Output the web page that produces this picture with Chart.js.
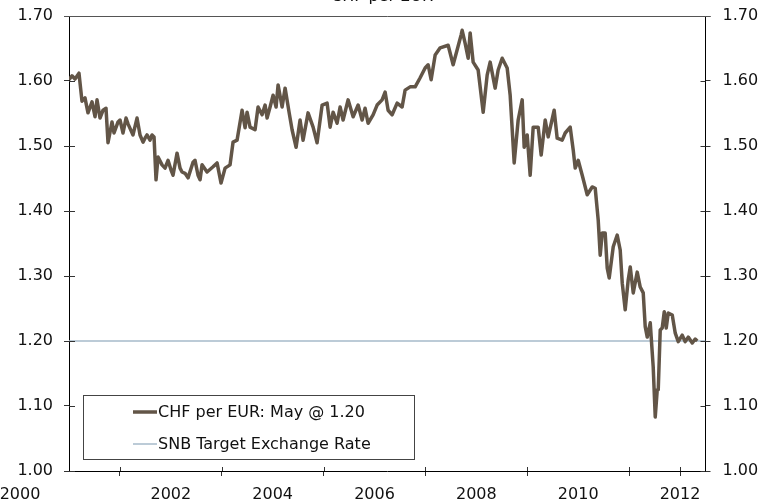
<!DOCTYPE html>
<html>
<head>
<meta charset="utf-8">
<script src="https://cdn.jsdelivr.net/npm/chart.js@4"></script>
<style>
html, body { margin: 0; padding: 0; background: #fff; }
</style>
</head>
<body>
<canvas id="myChart" width="773" height="503"></canvas>
<script>
// weekly-ish CHF per EUR
var dates = [
  2000.000, 2000.059, 2000.118, 2000.196, 2000.255, 2000.314, 2000.373, 2000.452, 2000.511, 2000.550,
  2000.609, 2000.668, 2000.727, 2000.766, 2000.845, 2000.884, 2000.963, 2001.002, 2001.061, 2001.120,
  2001.159, 2001.257, 2001.336, 2001.395, 2001.454, 2001.493, 2001.532, 2001.591, 2001.631, 2001.670,
  2001.709, 2001.749, 2001.827, 2001.886, 2001.945, 2002.004, 2002.043, 2002.122, 2002.181, 2002.220,
  2002.279, 2002.338, 2002.436, 2002.475, 2002.534, 2002.574, 2002.613, 2002.711, 2002.829, 2002.908,
  2002.986, 2003.065, 2003.163, 2003.222, 2003.301, 2003.399, 2003.458, 2003.497, 2003.556, 2003.654,
  2003.713, 2003.792, 2003.851, 2003.890, 2003.949, 2004.008, 2004.067, 2004.106, 2004.185, 2004.244,
  2004.322, 2004.381, 2004.460, 2004.538, 2004.597, 2004.695, 2004.794, 2004.872, 2004.971, 2005.069,
  2005.128, 2005.187, 2005.265, 2005.324, 2005.383, 2005.481, 2005.580, 2005.678, 2005.756, 2005.815,
  2005.874, 2005.972, 2006.051, 2006.149, 2006.208, 2006.267, 2006.346, 2006.444, 2006.542, 2006.601,
  2006.699, 2006.798, 2006.896, 2006.994, 2007.053, 2007.112, 2007.191, 2007.289, 2007.446, 2007.544,
  2007.623, 2007.701, 2007.721, 2007.780, 2007.839, 2007.878, 2007.937, 2008.035, 2008.134, 2008.212,
  2008.271, 2008.369, 2008.428, 2008.507, 2008.605, 2008.664, 2008.743, 2008.821, 2008.900, 2008.939,
  2008.998, 2009.057, 2009.116, 2009.214, 2009.273, 2009.352, 2009.411, 2009.528, 2009.587, 2009.686,
  2009.745, 2009.843, 2009.902, 2009.941, 2010.000, 2010.079, 2010.177, 2010.275, 2010.334, 2010.393,
  2010.432, 2010.472, 2010.530, 2010.570, 2010.609, 2010.688, 2010.766, 2010.825, 2010.865, 2010.923,
  2010.982, 2011.022, 2011.081, 2011.159, 2011.218, 2011.277, 2011.316, 2011.356, 2011.415, 2011.454,
  2011.473, 2011.513, 2011.552, 2011.572, 2011.611, 2011.650, 2011.690, 2011.729, 2011.768, 2011.847,
  2011.906, 2011.965, 2012.043, 2012.102, 2012.161, 2012.240, 2012.298, 2012.338
];
var chfPerEur = [
  1.602, 1.608, 1.603, 1.612, 1.569, 1.574, 1.551, 1.568, 1.545, 1.571,
  1.543, 1.555, 1.558, 1.505, 1.537, 1.520, 1.537, 1.540, 1.520, 1.543,
  1.534, 1.517, 1.543, 1.517, 1.506, 1.512, 1.517, 1.509, 1.517, 1.514,
  1.448, 1.483, 1.471, 1.466, 1.478, 1.463, 1.455, 1.489, 1.466, 1.460,
  1.458, 1.451, 1.475, 1.478, 1.455, 1.448, 1.471, 1.460, 1.468, 1.474,
  1.443, 1.466, 1.471, 1.506, 1.509, 1.555, 1.528, 1.552, 1.529, 1.525,
  1.560, 1.548, 1.563, 1.543, 1.560, 1.578, 1.560, 1.594, 1.560, 1.589,
  1.552, 1.525, 1.498, 1.540, 1.509, 1.551, 1.529, 1.505, 1.563, 1.566,
  1.529, 1.552, 1.535, 1.560, 1.540, 1.571, 1.545, 1.563, 1.540, 1.558,
  1.535, 1.548, 1.563, 1.571, 1.583, 1.555, 1.548, 1.566, 1.560, 1.586,
  1.591, 1.591, 1.605, 1.620, 1.625, 1.602, 1.640, 1.651, 1.655, 1.625,
  1.648, 1.671, 1.678, 1.658, 1.635, 1.674, 1.629, 1.617, 1.552, 1.609,
  1.629, 1.589, 1.617, 1.635, 1.620, 1.578, 1.474, 1.540, 1.571, 1.498,
  1.517, 1.455, 1.529, 1.529, 1.486, 1.540, 1.514, 1.555, 1.512, 1.509,
  1.520, 1.529, 1.494, 1.466, 1.478, 1.455, 1.425, 1.437, 1.435, 1.386,
  1.332, 1.366, 1.366, 1.312, 1.297, 1.345, 1.363, 1.340, 1.289, 1.248,
  1.294, 1.314, 1.274, 1.306, 1.283, 1.274, 1.222, 1.206, 1.228, 1.182,
  1.160, 1.083, 1.125, 1.125, 1.217, 1.220, 1.245, 1.220, 1.243, 1.240,
  1.212, 1.199, 1.209, 1.199, 1.206, 1.197, 1.203, 1.200
];
var targetDates = [2000, 2012.5];
var targetRate = [1.20, 1.20];

var yearTicks = [2000, 2001, 2002, 2003, 2004, 2005, 2006, 2007, 2008, 2009, 2010, 2011, 2012];
var yearLabels = ['', '', '2002', '', '2004', '', '2006', '', '2008', '', '2010', '', '2012'];
var tickMarkYears = [2001, 2003, 2005, 2007, 2009, 2011, 2012];
var rateTicks = [1.00, 1.10, 1.20, 1.30, 1.40, 1.50, 1.60, 1.70];

var FONT = 'DejaVu Sans';
var lineColor = '#625547';
var targetColor = '#a6baca';

function toPoints(xs, ys) {
  return xs.map(function(x, i){ return {x: x, y: ys[i]}; });
}

// fixed box sizes so the plot area sits where the original one does
function fixBox(w, h) {
  return function(scale) {
    if (w !== null) scale.width = w;
    if (h !== null) scale.height = h;
    scale.paddingTop = 0; scale.paddingBottom = 0;
    scale.paddingLeft = 0; scale.paddingRight = 0;
  };
}

// ticks crossing the axes, top border, title, legend box, first year label
var extras = {
  id: 'extras',
  afterDraw: function(chart) {
    var c = chart.ctx, a = chart.chartArea;
    var y = chart.scales.y, x = chart.scales.x;
    c.save();
    c.strokeStyle = '#333';
    c.lineWidth = 1;
    c.beginPath();
    rateTicks.forEach(function(v){
      var py = Math.round(y.getPixelForValue(v)) + 0.5;
      c.moveTo(a.left, py); c.lineTo(a.left + 6, py);
      c.moveTo(a.right - 5, py); c.lineTo(a.right, py);
    });
    tickMarkYears.forEach(function(v){
      var px = Math.round(x.getPixelForValue(v)) + 0.5;
      c.moveTo(px, a.bottom - 4); c.lineTo(px, a.bottom);
    });
    c.stroke();

    c.strokeStyle = '#555';
    c.beginPath();
    c.moveTo(a.left - 5, Math.round(a.top) + 0.5);
    c.lineTo(a.right + 5, Math.round(a.top) + 0.5);
    c.stroke();

    c.fillStyle = '#111';
    c.font = '16px "' + FONT + '"';
    c.textAlign = 'center';
    c.textBaseline = 'alphabetic';
    c.fillText('CHF per EUR', 382, 0.5);

    c.textBaseline = 'middle';
    c.fillText('2000', 20, a.bottom + 23.6);

    // legend
    var lx = 83.5, ly = 395.5, lw = 331, lh = 64;
    c.fillStyle = '#fff';
    c.fillRect(lx, ly, lw, lh);
    c.strokeStyle = '#444';
    c.strokeRect(lx, ly, lw, lh);
    var rows = [412, 444];
    chart.data.datasets.forEach(function(ds, i){
      c.strokeStyle = ds.borderColor;
      c.lineWidth = ds.borderWidth;
      c.beginPath();
      c.moveTo(133, rows[i]); c.lineTo(157, rows[i]);
      c.stroke();
      c.fillStyle = '#111';
      c.textAlign = 'left';
      c.fillText(ds.label, 158, rows[i] + 1);
    });
    c.restore();
  }
};

var ctx = document.getElementById('myChart').getContext('2d');
var myChart = new Chart(ctx, {
  type: 'line',
  data: {
    datasets: [
      {
        label: 'CHF per EUR: May @ 1.20',
        data: toPoints(dates, chfPerEur),
        borderColor: lineColor,
        borderWidth: 3.5,
        borderJoinStyle: 'round',
        pointRadius: 0,
        tension: 0,
        order: 0
      },
      {
        label: 'SNB Target Exchange Rate',
        data: toPoints(targetDates, targetRate),
        borderColor: targetColor,
        borderWidth: 1.5,
        pointRadius: 0,
        order: 1
      }
    ]
  },
  options: {
    responsive: false,
    devicePixelRatio: 1,
    animation: false,
    layout: { padding: { top: 16, left: 0, right: 0, bottom: 0 } },
    plugins: {
      legend: { display: false },
      title: { display: false },
      tooltip: { enabled: false }
    },
    scales: {
      x: {
        type: 'linear',
        min: 2000,
        max: 2012.5,
        afterBuildTicks: function(scale){ scale.ticks = yearTicks.map(function(v){ return {value: v}; }); },
        afterFit: fixBox(null, 32),
        ticks: {
          autoSkip: false,
          maxRotation: 0,
          padding: 9,
          color: '#111',
          font: { family: FONT, size: 16 },
          callback: function(v){ return yearLabels[yearTicks.indexOf(v)]; }
        },
        grid: {
          drawOnChartArea: false,
          tickLength: 5,
          tickColor: function(c){ return c.tick && tickMarkYears.indexOf(c.tick.value) >= 0 ? '#333' : 'rgba(0,0,0,0)'; }
        },
        border: { color: '#000', width: 1 }
      },
      y: {
        position: 'left',
        min: 1.00,
        max: 1.70,
        afterBuildTicks: function(scale){ scale.ticks = rateTicks.map(function(v){ return {value: v}; }); },
        afterFit: fixBox(69, null),
        ticks: {
          padding: 11,
          color: '#111',
          font: { family: FONT, size: 16 },
          callback: function(v){ return v.toFixed(2); }
        },
        grid: { drawOnChartArea: false, tickLength: 5, tickColor: '#333' },
        border: { color: '#000', width: 1 }
      },
      y2: {
        position: 'right',
        min: 1.00,
        max: 1.70,
        afterBuildTicks: function(scale){ scale.ticks = rateTicks.map(function(v){ return {value: v}; }); },
        afterFit: fixBox(67.5, null),
        ticks: {
          padding: 12,
          color: '#111',
          font: { family: FONT, size: 16 },
          callback: function(v){ return v.toFixed(2); }
        },
        grid: { drawOnChartArea: false, tickLength: 5, tickColor: '#333' },
        border: { color: '#000', width: 1 }
      }
    }
  },
  plugins: [extras]
});
</script>
</body>
</html>
